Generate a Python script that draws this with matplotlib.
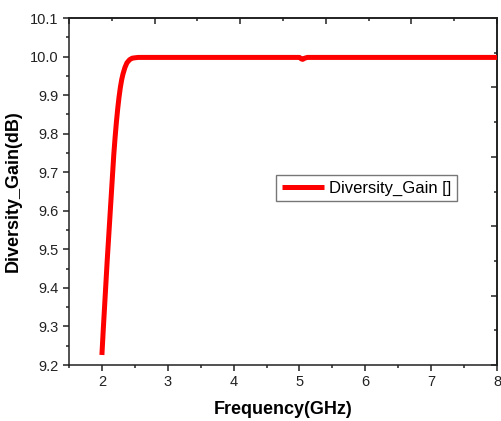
import numpy as np
import matplotlib
matplotlib.use("Agg")
import matplotlib.pyplot as plt
from matplotlib.ticker import MultipleLocator, FixedLocator

# =====================================
# Datos
# =====================================
freq = [2.00, 2.02, 2.04, 2.06, 2.08, 2.10, 2.12, 2.14, 2.16, 2.18, 2.20,
        2.22, 2.24, 2.26, 2.28, 2.30, 2.32, 2.35, 2.38, 2.42, 2.46, 2.50,
        2.55, 3.0, 4.0, 5.00, 5.03, 5.05, 5.08, 5.12, 6.0, 7.0, 8.0]
gain = [9.226, 9.29, 9.35, 9.41, 9.47, 9.525, 9.58, 9.635, 9.69, 9.745, 9.79,
        9.83, 9.865, 9.895, 9.92, 9.94, 9.955, 9.972, 9.984, 9.992, 9.996, 9.997,
        9.998, 9.998, 9.998, 9.998, 9.994, 9.993, 9.996, 9.998, 9.998, 9.998, 9.998]

plt.rcParams['font.family'] = ['Liberation Sans', 'DejaVu Sans']

fig = plt.figure(figsize=(5.01, 4.21), dpi=100)
ax = fig.add_axes([0.1377, 0.133, 0.8543, 0.824])

ax.plot(freq, gain, color='#ff0000', linewidth=3.6, label='Diversity_Gain []',
        solid_capstyle='butt', zorder=3)

ax.set_xlim(1.5, 8)
ax.set_ylim(9.2, 10.1)
ax.xaxis.set_major_locator(MultipleLocator(1))
ax.xaxis.set_minor_locator(MultipleLocator(0.5))
ax.yaxis.set_major_locator(MultipleLocator(0.1))
ax.yaxis.set_minor_locator(MultipleLocator(0.05))
ax.yaxis.set_major_formatter(matplotlib.ticker.FormatStrFormatter('%.1f'))
ax.tick_params(which='both', direction='out', top=False, right=False,
               labelsize=10.5, width=1.1, colors='#222222')
ax.tick_params(which='major', length=4.5, pad=3)
ax.tick_params(which='minor', length=2.5)

for s in ax.spines.values():
    s.set_linewidth(1.1)
    s.set_color('#222222')

# ejes secundarios (estilo Origin)
top = ax.secondary_xaxis('top')
top.xaxis.set_major_locator(FixedLocator([1.5 + 1.3 * k for k in range(6)]))
top.xaxis.set_minor_locator(FixedLocator([2.15 + 1.3 * k for k in range(5)]))
top.tick_params(which='both', direction='in', labeltop=False, width=1.1, colors='#222222')
top.tick_params(which='major', length=4.5)
top.tick_params(which='minor', length=2.5)
top.spines['top'].set_linewidth(1.1)

right = ax.secondary_yaxis('right')
right.yaxis.set_major_locator(FixedLocator([9.2 + 0.18 * k for k in range(6)]))
right.yaxis.set_minor_locator(FixedLocator([9.29 + 0.18 * k for k in range(5)]))
right.tick_params(which='both', direction='in', labelright=False, width=1.1, colors='#222222')
right.tick_params(which='major', length=4.5)
right.tick_params(which='minor', length=2.5)
right.spines['right'].set_linewidth(1.1)

ax.set_xlabel('Frequency(GHz)', fontsize=13, fontweight='bold', labelpad=8)
ax.set_ylabel('Diversity_Gain(dB)', fontsize=13, fontweight='bold', labelpad=6)

leg = ax.legend(loc='center left', bbox_to_anchor=(0.484, 0.51), fontsize=12,
                frameon=True, fancybox=False, edgecolor='#555555',
                handlelength=2.5, handletextpad=0.3, borderpad=0.35,
                borderaxespad=0)
leg.get_frame().set_linewidth(1.0)

plt.savefig('out.png', dpi=100)
